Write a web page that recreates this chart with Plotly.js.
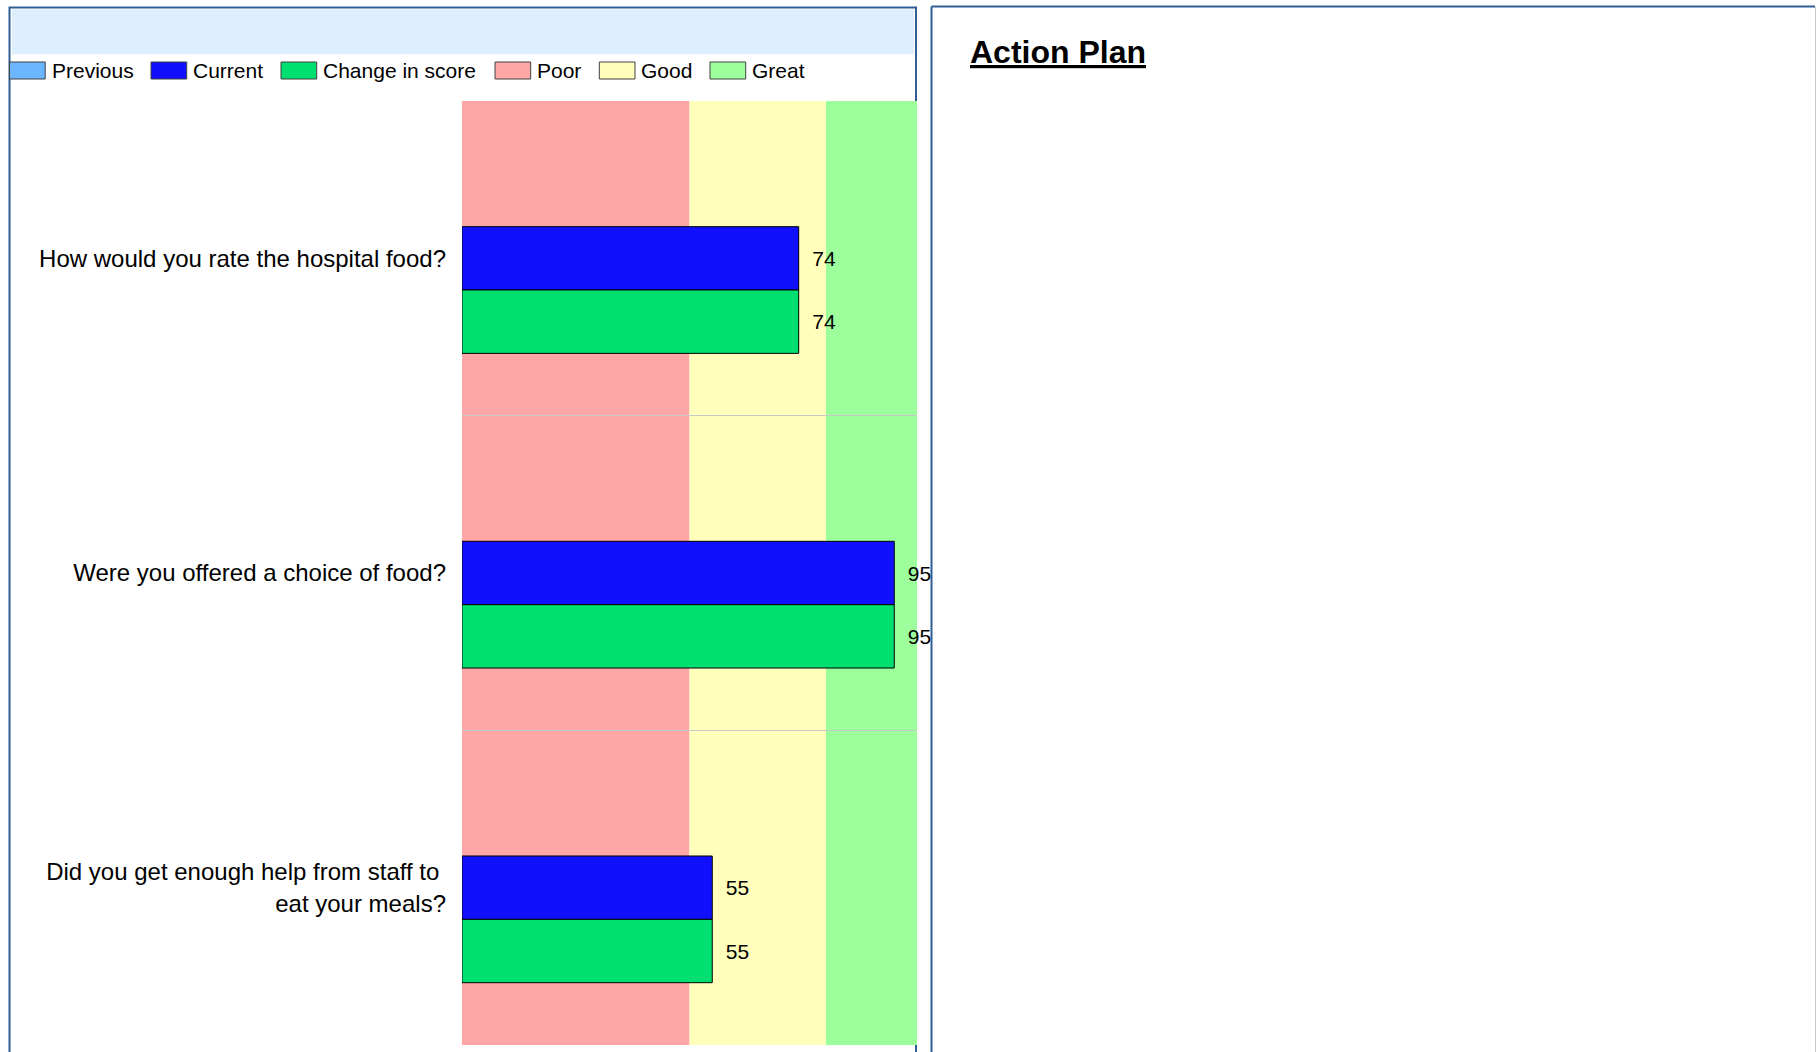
<!DOCTYPE html>
<html>
<head>
<meta charset="utf-8">
<script src="https://cdn.plot.ly/plotly-3.0.1.min.js"></script>
<style>
  html, body { margin: 0; padding: 0; background: #ffffff; }
  #chart { width: 1816px; height: 1052px; }
</style>
</head>
<body>
<div id="chart"></div>
<script>
// ---- Data ----
const categories = [
  "How would you rate the hospital food?",
  "Were you offered a choice of food?",
  "Did you get enough help from staff to\u00a0<br>eat your meals?"
];
const seriesNames = ["Previous", "Current", "Change in score"];
const previousScores = [null, null, null];
const currentScores = [74, 95, 55];
const changeScores = [74, 95, 55];

const bandNames = ["Poor", "Good", "Great"];
const bandFrom = [0, 50, 80];
const bandTo = [50, 80, 100];

const panelTitle = "Action Plan";

// ---- Styling ----
const FONT = "Arial, 'Liberation Sans', sans-serif";
const seriesColors = ["#6BB6FF", "#1010FF", "#00E070"];
const bandColors = ["#FFA6A6", "#FFFFBB", "#9CFF9C"];
const borderBlue = "#2F5E95";

const W = 1816, H = 1052;
const M = { l: 462, r: 899, t: 101, b: 7 };
const plotW = W - M.l - M.r, plotH = H - M.t - M.b;
const px = x => (x - M.l) / plotW;          // pixel x -> paper x
const py = y => (H - M.b - y) / plotH;      // pixel y -> paper y

const seriesValues = [previousScores, currentScores, changeScores];
const traces = seriesNames.map((name, i) => ({
  type: "bar",
  orientation: "h",
  name: name,
  y: categories,
  x: seriesValues[i],
  marker: { color: seriesColors[i], line: { color: "#000000", width: 1 } },
  texttemplate: "\u2002%{x}",
  textposition: "outside",
  textfont: { family: FONT, size: 21, color: "#000000" },
  cliponaxis: false,
  hoverinfo: "x+y+name",
  showlegend: false
}));

const shapes = [];
// Left panel (white with dark blue border)
shapes.push({ type: "rect", xref: "paper", yref: "paper", layer: "below",
  x0: px(9.5), x1: px(916), y0: py(1070), y1: py(7.5),
  fillcolor: "#ffffff", line: { color: borderBlue, width: 2 } });
// Header band
shapes.push({ type: "rect", xref: "paper", yref: "paper", layer: "below",
  x0: px(12), x1: px(914), y0: py(54.3), y1: py(9.3),
  fillcolor: "#DDEEFF", line: { width: 0 } });
// Right panel borders
shapes.push({ type: "line", xref: "paper", yref: "paper", layer: "below",
  x0: px(931.5), x1: px(931.5), y0: py(1070), y1: py(6.5),
  line: { color: borderBlue, width: 2 } });
shapes.push({ type: "line", xref: "paper", yref: "paper", layer: "below",
  x0: px(931.5), x1: px(1815), y0: py(6.5), y1: py(6.5),
  line: { color: borderBlue, width: 2 } });
shapes.push({ type: "line", xref: "paper", yref: "paper", layer: "below",
  x0: px(1815.5), x1: px(1815.5), y0: py(1070), y1: py(7),
  line: { color: "#C8C8C8", width: 1 } });

// Score bands (Poor / Good / Great) on the value axis
bandNames.forEach((b, i) => {
  shapes.push({ type: "rect", xref: "x", yref: "paper", layer: "below",
    x0: bandFrom[i], x1: bandTo[i], y0: 0, y1: 1,
    fillcolor: bandColors[i], line: { width: 0 } });
});

// Custom legend
const legendNames = seriesNames.concat(bandNames);
const legendColors = seriesColors.concat(bandColors);
const legendX = [9.5, 151, 281, 495, 599.3, 710];
const annotations = [];
legendNames.forEach((n, i) => {
  shapes.push({ type: "rect", xref: "paper", yref: "paper",
    x0: px(legendX[i]), x1: px(legendX[i] + 35.7), y0: py(79), y1: py(62),
    fillcolor: legendColors[i], line: { color: "#404040", width: 1 } });
  annotations.push({ xref: "paper", yref: "paper", x: px(legendX[i] + 40), y: py(71),
    xanchor: "left", yanchor: "middle", showarrow: false, text: n,
    font: { family: FONT, size: 21, color: "#000000" } });
});

annotations.push({ xref: "paper", yref: "paper", x: px(968), y: py(52),
  xanchor: "left", yanchor: "middle", showarrow: false, text: panelTitle,
  font: { family: FONT, size: 32, color: "#000000", weight: "bold", lineposition: "under" } });

const layout = {
  width: W, height: H,
  margin: M,
  paper_bgcolor: "#ffffff",
  plot_bgcolor: "rgba(0,0,0,0)",
  barmode: "group",
  bargap: 0.396,
  bargroupgap: 0,
  showlegend: false,
  font: { family: FONT, color: "#000000" },
  xaxis: { range: [0, 100], showticklabels: false, showgrid: false, zeroline: false,
    showline: false, ticks: "", fixedrange: true },
  yaxis: { type: "category", autorange: "reversed", tickson: "boundaries",
    showgrid: true, gridcolor: "#C8C8C8", gridwidth: 1, ticks: "",
    showline: false, zeroline: false, ticklabelstandoff: 15,
    tickfont: { family: FONT, size: 24, color: "#000000" }, fixedrange: true },
  shapes: shapes,
  annotations: annotations
};

Plotly.newPlot("chart", traces, layout, { displayModeBar: false, staticPlot: true });
</script>
</body>
</html>
